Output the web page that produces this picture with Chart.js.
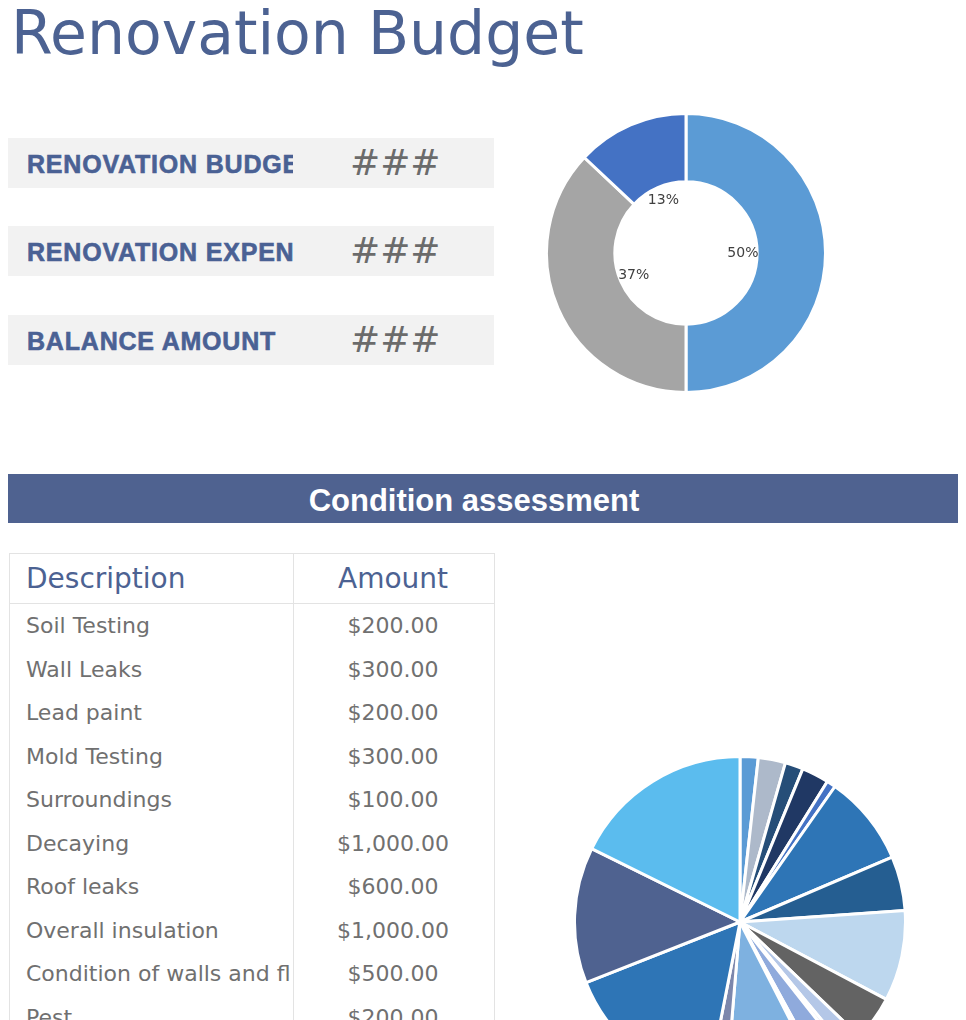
<!DOCTYPE html>
<html>
<head>
<meta charset="utf-8">
<title>Renovation Budget</title>
<script src="https://cdn.jsdelivr.net/npm/chart.js@4.4.0/dist/chart.umd.min.js"></script>
<style>
  html, body { margin: 0; padding: 0; background: #fff; }
  body { width: 966px; height: 1020px; overflow: hidden; position: relative; font-family: "DejaVu Sans", sans-serif; }
  .title { position: absolute; left: 11px; top: -2px; font-size: 60px; color: #4C6292; white-space: nowrap; }
  .kpi { position: absolute; left: 8px; width: 486px; height: 50px; background: #F2F2F2; }
  .kpi .lbl { position: absolute; left: 19px; top: 0; width: 266px; height: 50px; line-height: 52px; overflow: hidden; white-space: nowrap;
              font-family: "Liberation Sans", Arial, sans-serif; font-weight: bold; font-size: 25px; letter-spacing: 0.8px;
              -webkit-text-stroke: 0.6px #4A6194; color: #4A6194; }
  .kpi .val { position: absolute; left: 342px; top: 0; height: 50px; line-height: 50px; font-size: 36px; color: #6B6B6B; }
  .band { position: absolute; left: 8px; top: 474px; width: 950px; height: 49px; background: #4F6290; color: #fff;
          font-family: "Liberation Sans", Arial, sans-serif; font-weight: bold; font-size: 31px; text-align: center; line-height: 53px;
          box-sizing: border-box; padding-right: 18px; }
  .tbl { position: absolute; left: 9px; top: 553px; width: 484px; border: 1px solid #E3E3E3; border-bottom: none; }
  .row { position: relative; height: 43.5px; }
  .row .d { position: absolute; left: 16px; top: 0; width: 264px; overflow: hidden; white-space: nowrap; line-height: 43.5px; font-size: 22px; color: #707070; }
  .row .a { position: absolute; left: 283px; width: 200px; top: 0; text-align: center; line-height: 43.5px; font-size: 22px; color: #707070; }
  .row.head { height: 49px; border-bottom: 1px solid #E3E3E3; }
  .row.head .d, .row.head .a { line-height: 49px; font-size: 28px; color: #4C6292; }
  .split { position: absolute; left: 283px; top: 0; width: 1px; height: 600px; background: #E3E3E3; }
  #shareBox { position: absolute; left: 545px; top: 112px; }
  #itemBox { position: absolute; left: 573px; top: 755px; }
</style>
</head>
<body>
<div class="title">Renovation Budget</div>
<div id="kpis"></div>
<div class="band">Condition assessment</div>
<div class="tbl" id="tbl"><div class="split"></div></div>
<div id="shareBox"><canvas id="my-Share-Chart" width="282" height="282"></canvas></div>
<div id="itemBox"><canvas id="my-Item-Chart" width="334" height="334"></canvas></div>

<script>
// kartu ringkasan
const kpiLabels = ['RENOVATION BUDGET', 'RENOVATION EXPENSE', 'BALANCE AMOUNT'];
const kpiValues = ['###', '###', '###'];

// donat persentase
const shareLabels = ['Budget', 'Expense', 'Balance'];
const sharePercents = [50, 37, 13];
const shareColors = ['#5B9BD5', '#A5A5A5', '#4472C4'];

// tabel condition assessment (baris setelah "Pest" terpotong di gambar)
const itemNames = [
    'Soil Testing', 'Wall Leaks', 'Lead paint', 'Mold Testing', 'Surroundings',
    'Decaying', 'Roof leaks', 'Overall insulation', 'Condition of walls and floors', 'Pest',
    'Item 11', 'Item 12', 'Item 13', 'Item 14', 'Item 15', 'Item 16', 'Item 17', 'Item 18'
];
const itemAmounts = [200, 300, 200, 300, 100, 1000, 600, 1000, 500, 200, 50, 300, 50, 1000, 200, 1800, 1500, 2000];
const itemColors = [
    '#5B9BD5', '#ADB9CA', '#264E78', '#203864', '#4472C4',
    '#2E75B6', '#255E91', '#BDD7EE', '#636363', '#B4C7E7',
    '#DAE3F3', '#8FAADC', '#DEEBF7', '#7EB1E0', '#7C87AC',
    '#2E75B6', '#4F6290', '#5BBCEE'
];

// isi kartu
const kpiTops = [138, 226, 315];
kpiLabels.forEach((label, i) => {
    const box = document.createElement('div');
    box.className = 'kpi';
    box.style.top = kpiTops[i] + 'px';
    box.innerHTML = '<div class="lbl">' + label + '</div><div class="val">' + kpiValues[i] + '</div>';
    document.getElementById('kpis').appendChild(box);
});

// isi tabel
const money = v => '$' + v.toLocaleString('en-US', { minimumFractionDigits: 2, maximumFractionDigits: 2 });
const tbl = document.getElementById('tbl');
tbl.insertAdjacentHTML('beforeend', '<div class="row head"><div class="d">Description</div><div class="a">Amount</div></div>');
itemNames.forEach((name, i) => {
    tbl.insertAdjacentHTML('beforeend', '<div class="row"><div class="d">' + name + '</div><div class="a">' + money(itemAmounts[i]) + '</div></div>');
});

// label persen di dalam lubang donat
const insideLabels = {
    id: 'insideLabels',
    afterDatasetsDraw(chart) {
        const ctx = chart.ctx;
        const meta = chart.getDatasetMeta(0);
        ctx.save();
        ctx.font = '14px "DejaVu Sans"';
        ctx.fillStyle = '#404040';
        ctx.textAlign = 'center';
        ctx.textBaseline = 'middle';
        meta.data.forEach((arc, i) => {
            const p = arc.getProps(['x', 'y', 'startAngle', 'endAngle', 'innerRadius']);
            const mid = (p.startAngle + p.endAngle) / 2;
            const r = p.innerRadius * 0.8;
            ctx.fillText(sharePercents[i] + '%', p.x + Math.cos(mid) * r, p.y + Math.sin(mid) * r);
        });
        ctx.restore();
    }
};

function createShareChart() {
    const ctx = document.getElementById('my-Share-Chart').getContext('2d');
    new Chart(ctx, {
        type: 'doughnut',
        data: {
            labels: shareLabels,
            datasets: [{
                data: sharePercents,
                backgroundColor: shareColors,
                borderColor: '#ffffff',
                borderWidth: 3
            }]
        },
        options: {
            responsive: false,
            animation: false,
            cutout: '51%',
            plugins: {
                legend: { display: false },
                tooltip: { enabled: false }
            }
        },
        plugins: [insideLabels]
    });
}

function createItemChart() {
    const ctx = document.getElementById('my-Item-Chart').getContext('2d');
    new Chart(ctx, {
        type: 'pie',
        data: {
            labels: itemNames,
            datasets: [{
                data: itemAmounts,
                backgroundColor: itemColors,
                borderColor: '#ffffff',
                borderWidth: 3
            }]
        },
        options: {
            responsive: false,
            animation: false,
            plugins: {
                legend: { display: false },
                tooltip: { enabled: false }
            }
        }
    });
}

createShareChart()
createItemChart()
</script>
</body>
</html>
